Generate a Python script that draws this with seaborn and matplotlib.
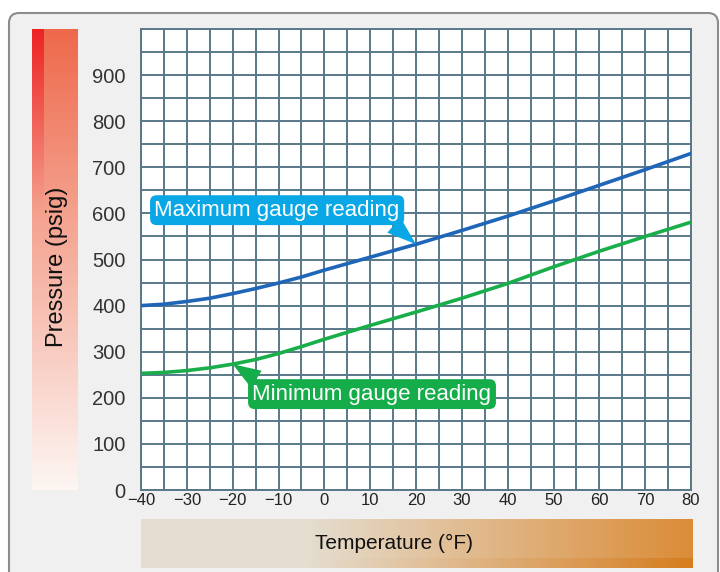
import numpy as np
import pandas as pd
import matplotlib
matplotlib.use("Agg")
import matplotlib.pyplot as plt
import seaborn as sns
from matplotlib.patches import FancyBboxPatch

# Values (5 degree steps where the curves bend)
temps = [-40, -35, -30, -25, -20, -15, -10, -5, 0, 5, 10, 20, 30, 40, 50, 60, 70, 80]
max_reading = [400, 403, 409, 416, 426, 437, 449, 462, 477, 491, 505, 533, 563, 594, 627, 661, 695, 730]
min_reading = [253, 255, 259, 265, 273, 283, 296, 311, 327, 342, 357, 386, 416, 448, 484, 518, 550, 581]
x_ticks = list(range(-40, 81, 10))
y_ticks = list(range(0, 901, 100))

df = pd.DataFrame({
    "Temperature": temps + temps,
    "Pressure": max_reading + min_reading,
    "Reading": ["Maximum"] * len(temps) + ["Minimum"] * len(temps),
})

sns.set_style("white")
plt.rcParams["font.family"] = ["Liberation Sans", "DejaVu Sans"]

W, H = 720, 572
fig = plt.figure(figsize=(W / 100, H / 100), dpi=100, facecolor="white")


def px_box(x0, y0, x1, y1):
    return [x0 / W, 1 - y1 / H, (x1 - x0) / W, (y1 - y0) / H]


# grey rounded panel behind everything
frame = FancyBboxPatch((0.09, -0.5), 7.09, 6.09,
                       boxstyle="round,pad=0,rounding_size=0.1",
                       transform=fig.dpi_scale_trans,
                       fc="#f0f0f0", ec="#8c8c8c", lw=1.5, zorder=-1)
fig.add_artist(frame)

grid_c = "#587888"
blue, green = "#1f66b8", "#1aae4b"
box_blue, box_green = "#0aa7e6", "#14ad4a"

# main chart
ax = fig.add_axes(px_box(141, 29, 691, 490))
sns.lineplot(data=df, x="Temperature", y="Pressure", hue="Reading",
             palette=[blue, green], linewidth=2.6, legend=False, ax=ax, zorder=3)
ax.set_facecolor("white")
ax.set_xlim(-40, 80)
ax.set_ylim(0, 1000)
ax.set_xticks(x_ticks)
ax.set_xticks(range(-35, 80, 10), minor=True)
ax.set_yticks(y_ticks)
ax.set_yticks(range(50, 1000, 100), minor=True)
ax.grid(which="both", color=grid_c, lw=1.4)
ax.tick_params(which="both", length=0)
ax.tick_params(axis="y", pad=11, labelsize=14.5, labelcolor="#333333")
ax.tick_params(axis="x", pad=2, labelsize=12, labelcolor="#222222")
for s in ax.spines.values():
    s.set_color(grid_c)
    s.set_linewidth(1.4)
ax.set_xlabel("")
ax.set_ylabel("")

# callouts
i_max = temps.index(20)
i_min = temps.index(-20)
ax.annotate("Maximum gauge reading", xy=(temps[i_max], max_reading[i_max]), xytext=(-10.3, 607),
            ha="center", va="center", fontsize=16, color="white", zorder=5,
            bbox=dict(boxstyle="round,pad=0.2,rounding_size=0.3", fc=box_blue, ec="none"),
            arrowprops=dict(arrowstyle="wedge,tail_width=0.9", fc=box_blue, ec="none",
                            shrinkA=0, shrinkB=0, relpos=(0.955, 0.0)))
ax.annotate("Minimum gauge reading", xy=(temps[i_min], min_reading[i_min]), xytext=(10.4, 208),
            ha="center", va="center", fontsize=16, color="white", zorder=5,
            bbox=dict(boxstyle="round,pad=0.2,rounding_size=0.3", fc=box_green, ec="none"),
            arrowprops=dict(arrowstyle="wedge,tail_width=0.9", fc=box_green, ec="none",
                            shrinkA=0, shrinkB=0, relpos=(0.045, 1.0)))

# red pressure bar on the left
n = 200
t = np.linspace(0, 1, n)[:, None]
top_main = np.array([238, 105, 75]) / 255
top_red = np.array([237, 35, 36]) / 255
bottom = np.array([253, 246, 243]) / 255
main_col = top_main + (bottom - top_main) * t
red_col = main_col + (top_red - top_main) * np.clip(1 - t / 0.4, 0, 1)
img = np.zeros((n, 46, 3))
img[:, :12, :] = red_col[:, None, :]
img[:, 12:, :] = main_col[:, None, :]
axl = fig.add_axes(px_box(32, 29, 78, 490))
axl.imshow(np.clip(img, 0, 1), aspect="auto", interpolation="bilinear")
axl.axis("off")
fig.text(57 / W, 1 - 267 / H, "Pressure (psig)", rotation=90, fontsize=17,
         ha="center", va="center", color="#111111")

# orange temperature bar at the bottom
m = 400
u = np.linspace(0, 1, m)
left_c = np.array([229, 221, 208]) / 255
right_c = np.array([219, 140, 55]) / 255
right_dark = np.array([214, 125, 30]) / 255
f = np.clip((u - 0.3) / 0.7, 0, 1)[:, None]
row_top = left_c + (right_c - left_c) * f
row_bot = left_c + (right_dark - left_c) * f
img2 = np.zeros((49, m, 3))
img2[:39] = row_top[None, :, :]
img2[39:] = row_bot[None, :, :]
axb = fig.add_axes(px_box(141, 519, 693, 568))
axb.imshow(img2, aspect="auto", interpolation="bilinear")
axb.axis("off")
fig.text(394 / W, 1 - 543 / H, "Temperature (°F)", fontsize=15,
         ha="center", va="center", color="#111111")

fig.savefig("out.png", dpi=100, facecolor="white")
